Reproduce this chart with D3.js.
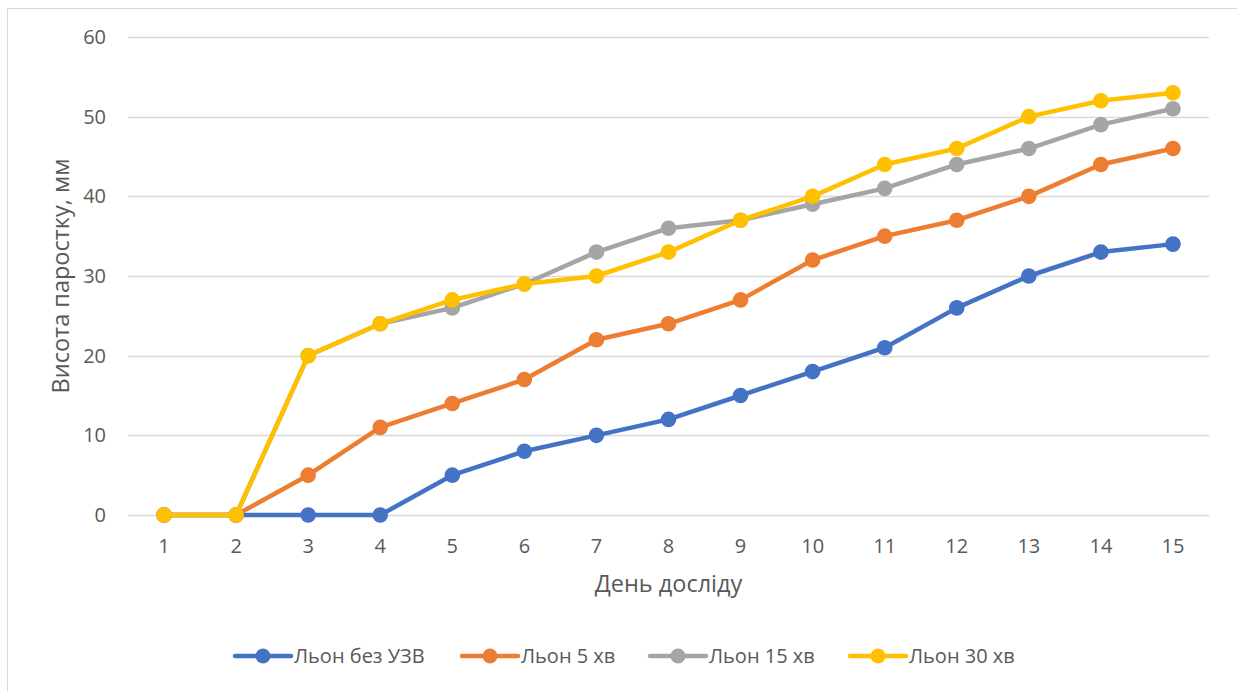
<!DOCTYPE html>
<html>
<head>
<meta charset="utf-8">
<script src="https://cdn.jsdelivr.net/npm/d3@7"></script>
<style>
  html, body { margin: 0; padding: 0; background: #fff; }
  svg { display: block; font-family: "Open Sans", "Noto Sans", sans-serif; }
</style>
</head>
<body>
<svg id="chart" width="1237" height="691"></svg>
<script>
// Days of the experiment and seedling heights (mm) per treatment
const days = [1, 2, 3, 4, 5, 6, 7, 8, 9, 10, 11, 12, 13, 14, 15];
const seriesNames = ["Льон без УЗВ", "Льон 5 хв", "Льон 15 хв", "Льон 30 хв"];
const flaxControl = [0, 0, 0, 0, 5, 8, 10, 12, 15, 18, 21, 26, 30, 33, 34];
const flax5min = [0, 0, 5, 11, 14, 17, 22, 24, 27, 32, 35, 37, 40, 44, 46];
const flax15min = [0, 0, 20, 24, 26, 29, 33, 36, 37, 39, 41, 44, 46, 49, 51];
const flax30min = [0, 0, 20, 24, 27, 29, 30, 33, 37, 40, 44, 46, 50, 52, 53];
const yTicks = [0, 10, 20, 30, 40, 50, 60];
const colors = ["#4472c4", "#ed7d31", "#a5a5a5", "#ffc000"];

const seriesValues = [flaxControl, flax5min, flax15min, flax30min];
const series = seriesNames.map((name, i) => ({
  name, color: colors[i],
  points: days.map((d, j) => ({ day: d, value: seriesValues[i][j] }))
}));

const svg = d3.select("#chart");
const textColor = "#595959";

// outer chart frame
svg.append("rect")
  .attr("x", 7.5).attr("y", 8.5)
  .attr("width", 1240).attr("height", 700)
  .attr("fill", "none").attr("stroke", "#d9d9d9").attr("stroke-width", 1);

const plot = { left: 128, right: 1209, top: 37, bottom: 515 };

const x = d3.scaleBand().domain(days).range([plot.left, plot.right]);
const y = d3.scaleLinear().domain([0, 60]).range([plot.bottom, plot.top]);
const cx = d => x(d) + x.bandwidth() / 2;

// horizontal gridlines
svg.append("g")
  .selectAll("line")
  .data(yTicks)
  .join("line")
  .attr("x1", plot.left).attr("x2", plot.right)
  .attr("y1", d => Math.round(y(d)) + 0.5).attr("y2", d => Math.round(y(d)) + 0.5)
  .attr("stroke", "#d9d9d9").attr("stroke-width", 1.3);

// y axis labels
const yAxis = svg.append("g")
  .attr("transform", "translate(106,0)")
  .call(d3.axisLeft(y).tickValues(yTicks).tickSize(0).tickPadding(0));
yAxis.select(".domain").remove();
yAxis.selectAll("text")
  .attr("font-size", 20).attr("fill", textColor)
  .attr("font-family", "'Open Sans', sans-serif");

// x axis labels
const xAxis = svg.append("g")
  .attr("transform", "translate(0,553)")
  .call(d3.axisBottom(x).tickSize(0).tickPadding(0));
xAxis.select(".domain").remove();
xAxis.selectAll("text")
  .attr("y", 0).attr("dy", 0)
  .attr("font-size", 20).attr("fill", textColor)
  .attr("font-family", "'Open Sans', sans-serif");

// axis titles
svg.append("text")
  .attr("x", (plot.left + plot.right) / 2).attr("y", 592)
  .attr("text-anchor", "middle")
  .attr("font-size", 23.5).attr("fill", textColor)
  .text("День досліду");

svg.append("text")
  .attr("transform", `translate(69,${(plot.top + plot.bottom) / 2}) rotate(-90)`)
  .attr("text-anchor", "middle")
  .attr("font-size", 23.5).attr("fill", textColor)
  .text("Висота паростку, мм");

// lines and markers
const line = d3.line().x(d => cx(d.day)).y(d => y(d.value));

const g = svg.append("g");
series.forEach(s => {
  g.append("path")
    .datum(s.points)
    .attr("d", line)
    .attr("fill", "none")
    .attr("stroke", s.color)
    .attr("stroke-width", 4.5)
    .attr("stroke-linejoin", "round")
    .attr("stroke-linecap", "round");
  g.append("g")
    .selectAll("circle")
    .data(s.points)
    .join("circle")
    .attr("cx", d => cx(d.day))
    .attr("cy", d => y(d.value))
    .attr("r", 7.8)
    .attr("fill", s.color);
});

// legend
const legendX = [235, 462, 650, 850];
const legend = svg.append("g").attr("transform", "translate(0,656)");
series.forEach((s, i) => {
  const item = legend.append("g").attr("transform", `translate(${legendX[i]},0)`);
  item.append("line")
    .attr("x1", 0).attr("x2", 56).attr("y1", 0).attr("y2", 0)
    .attr("stroke", s.color).attr("stroke-width", 4.5)
    .attr("stroke-linecap", "round");
  item.append("circle").attr("cx", 28).attr("cy", 0).attr("r", 7.5).attr("fill", s.color);
  item.append("text")
    .attr("x", 59).attr("y", 0).attr("dy", "0.35em")
    .attr("font-size", 20).attr("fill", textColor)
    .text(s.name);
});
</script>
</body>
</html>
